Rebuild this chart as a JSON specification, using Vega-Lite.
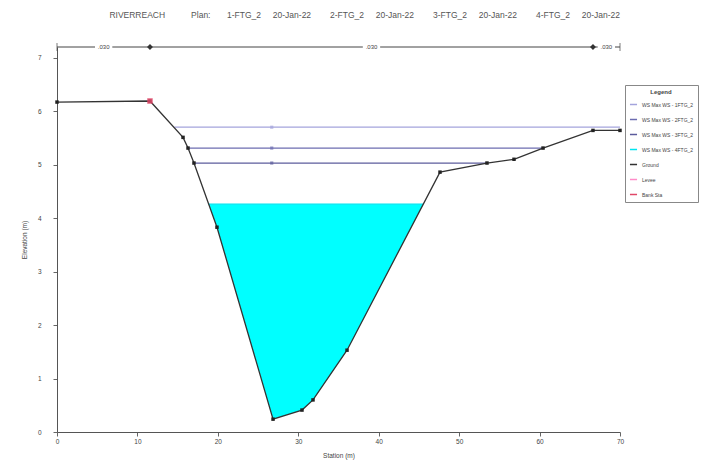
{
  "$schema": "https://vega.github.io/schema/vega-lite/v6.json",
  "width": 563,
  "height": 385,
  "autosize": {"type": "none"},
  "padding": {"left": 57, "top": 47, "right": 100, "bottom": 31},
  "background": "white",
  "config": {
    "view": {"stroke": null},
    "font": "Liberation Sans",
    "axis": {
      "domainColor": "#555555",
      "tickColor": "#666666",
      "labelColor": "#444444",
      "titleColor": "#444444",
      "labelFontSize": 6.5,
      "titleFontSize": 6.5,
      "titleFontWeight": "normal",
      "grid": false
    }
  },
  "title": {
    "text": "RIVERREACH\u00a0\u00a0\u00a0\u00a0\u00a0\u00a0\u00a0\u00a0\u00a0\u00a0\u00a0Plan:\u00a0\u00a0\u00a0\u00a0\u00a0\u00a0\u00a01-FTG_2\u00a0\u00a0\u00a0\u00a0\u00a020-Jan-22\u00a0\u00a0\u00a0\u00a0\u00a0\u00a0\u00a0\u00a02-FTG_2\u00a0\u00a0\u00a0\u00a0\u00a020-Jan-22\u00a0\u00a0\u00a0\u00a0\u00a0\u00a0\u00a0\u00a03-FTG_2\u00a0\u00a0\u00a0\u00a0\u00a020-Jan-22\u00a0\u00a0\u00a0\u00a0\u00a0\u00a0\u00a0\u00a04-FTG_2\u00a0\u00a0\u00a0\u00a0\u00a020-Jan-22",
    "fontSize": 8.5,
    "fontWeight": "normal",
    "color": "#555555",
    "anchor": "start",
    "dx": 88,
    "offset": 24
  },
  "datasets": {
    "ground": [
      {"station": 0, "elev": 6.17},
      {"station": 11.56, "elev": 6.19},
      {"station": 15.67, "elev": 5.51},
      {"station": 16.29, "elev": 5.31},
      {"station": 17.03, "elev": 5.03},
      {"station": 19.89, "elev": 3.83},
      {"station": 26.86, "elev": 0.24},
      {"station": 30.46, "elev": 0.41},
      {"station": 31.83, "elev": 0.6},
      {"station": 36.06, "elev": 1.53},
      {"station": 47.62, "elev": 4.86},
      {"station": 53.46, "elev": 5.03},
      {"station": 56.82, "elev": 5.1},
      {"station": 60.43, "elev": 5.31},
      {"station": 66.64, "elev": 5.64},
      {"station": 70, "elev": 5.64}
    ],
    "water": [
      {"station": 18.87, "ws": 4.26, "ground": 4.26},
      {"station": 19.89, "ws": 4.26, "ground": 3.83},
      {"station": 26.86, "ws": 4.26, "ground": 0.24},
      {"station": 30.46, "ws": 4.26, "ground": 0.41},
      {"station": 31.83, "ws": 4.26, "ground": 0.6},
      {"station": 36.06, "ws": 4.26, "ground": 1.53},
      {"station": 45.54, "ws": 4.26, "ground": 4.26}
    ],
    "ws": [
      {"profile": "WS Max WS - 1FTG_2", "elev": 5.7, "from": 14.6, "to": 70},
      {"profile": "WS Max WS - 2FTG_2", "elev": 5.31, "from": 16.29, "to": 60.43},
      {"profile": "WS Max WS - 3FTG_2", "elev": 5.03, "from": 17.03, "to": 53.46},
      {"profile": "WS Max WS - 4FTG_2", "elev": 4.26, "from": 18.87, "to": 45.54}
    ],
    "wsmarks": [
      {"profile": "WS Max WS - 1FTG_2", "station": 26.7, "elev": 5.7},
      {"profile": "WS Max WS - 2FTG_2", "station": 26.7, "elev": 5.31},
      {"profile": "WS Max WS - 3FTG_2", "station": 26.7, "elev": 5.03}
    ],
    "banks": [
      {"station": 11.56, "elev": 6.19}
    ],
    "nbar": [
      {"from": 0, "to": 70, "elev": 7.2}
    ],
    "nlabels": [
      {"station": 5.8, "elev": 7.2, "n": ".030"},
      {"station": 39.1, "elev": 7.2, "n": ".030"},
      {"station": 68.3, "elev": 7.2, "n": ".030"}
    ],
    "nends": [
      {"station": 0, "elev": 7.2},
      {"station": 70, "elev": 7.2}
    ],
    "nbanks": [
      {"station": 11.56, "elev": 7.2},
      {"station": 66.64, "elev": 7.2}
    ]
  },
  "layer": [
    {
      "data": {"name": "water"},
      "mark": {"type": "area", "color": "#00ffff", "opacity": 1},
      "encoding": {
        "x": {
          "field": "station",
          "type": "quantitative",
          "scale": {"domain": [0, 70], "nice": false, "zero": false},
          "axis": {
            "title": "Station (m)",
            "values": [0, 10, 20, 30, 40, 50, 60, 70],
            "format": "d",
            "labelOverlap": false,
            "labelFlush": false,
            "tickSize": 4,
            "labelPadding": 2,
            "titlePadding": 8
          }
        },
        "y": {
          "field": "ws",
          "type": "quantitative",
          "scale": {"domain": [0, 7.2], "nice": false, "zero": false},
          "axis": {
            "title": "Elevation (m)",
            "values": [0, 1, 2, 3, 4, 5, 6, 7],
            "format": "d",
            "labelOverlap": false,
            "tickSize": 4,
            "labelPadding": 12,
            "titlePadding": 10
          }
        },
        "y2": {"field": "ground"}
      }
    },
    {
      "data": {"name": "ws"},
      "mark": {"type": "rule", "strokeWidth": 1.2},
      "encoding": {
        "x": {"field": "from", "type": "quantitative"},
        "x2": {"field": "to"},
        "y": {"field": "elev", "type": "quantitative"},
        "color": {
          "field": "profile",
          "type": "nominal",
          "scale": {
            "domain": ["WS Max WS - 1FTG_2", "WS Max WS - 2FTG_2", "WS Max WS - 3FTG_2", "WS Max WS - 4FTG_2", "Ground", "Levee", "Bank Sta"],
            "range": ["#a4a4dc", "#6c6cb0", "#5c5c9c", "#00e5f0", "#333333", "#ff8cc8", "#e04868"]
          },
          "legend": {
            "title": "Legend",
            "orient": "none",
            "legendX": 568,
            "legendY": 38,
            "direction": "vertical",
            "titleAnchor": "middle",
            "titleFontSize": 6,
            "titleFontWeight": "bold",
            "titleColor": "#444444",
            "labelFontSize": 5,
            "labelColor": "#444444",
            "labelLimit": 60,
            "symbolType": "stroke",
            "symbolSize": 50,
            "symbolStrokeWidth": 1.5,
            "rowPadding": 7,
            "padding": 4,
            "strokeColor": "#888888",
            "fillColor": "white"
          }
        }
      }
    },
    {
      "data": {"name": "wsmarks"},
      "mark": {"type": "point", "filled": true, "size": 10, "shape": "square"},
      "encoding": {
        "x": {"field": "station", "type": "quantitative"},
        "y": {"field": "elev", "type": "quantitative"},
        "color": {"field": "profile", "type": "nominal", "legend": null}
      }
    },
    {
      "data": {"name": "ground"},
      "mark": {"type": "line", "color": "#333333", "strokeWidth": 1.3},
      "encoding": {
        "x": {"field": "station", "type": "quantitative"},
        "y": {"field": "elev", "type": "quantitative"}
      }
    },
    {
      "data": {"name": "ground"},
      "mark": {"type": "point", "filled": true, "shape": "square", "size": 12, "color": "#222222", "opacity": 1},
      "encoding": {
        "x": {"field": "station", "type": "quantitative"},
        "y": {"field": "elev", "type": "quantitative"}
      }
    },
    {
      "data": {"name": "banks"},
      "mark": {"type": "point", "filled": true, "shape": "square", "size": 30, "color": "#e04868", "opacity": 0.85},
      "encoding": {
        "x": {"field": "station", "type": "quantitative"},
        "y": {"field": "elev", "type": "quantitative"}
      }
    },
    {
      "data": {"name": "nbar"},
      "mark": {"type": "rule", "color": "#444444", "strokeWidth": 1},
      "encoding": {
        "x": {"field": "from", "type": "quantitative"},
        "x2": {"field": "to"},
        "y": {"field": "elev", "type": "quantitative"}
      }
    },
    {
      "data": {"name": "nends"},
      "mark": {"type": "tick", "orient": "vertical", "color": "#444444", "size": 8, "thickness": 1},
      "encoding": {
        "x": {"field": "station", "type": "quantitative"},
        "y": {"field": "elev", "type": "quantitative"}
      }
    },
    {
      "data": {"name": "nbanks"},
      "mark": {"type": "point", "filled": true, "shape": "diamond", "size": 35, "color": "#333333", "opacity": 1},
      "encoding": {
        "x": {"field": "station", "type": "quantitative"},
        "y": {"field": "elev", "type": "quantitative"}
      }
    },
    {
      "data": {"name": "nlabels"},
      "mark": {"type": "point", "filled": true, "shape": "M-1,-0.4L1,-0.4L1,0.4L-1,0.4Z", "size": 300, "color": "white", "opacity": 1},
      "encoding": {
        "x": {"field": "station", "type": "quantitative"},
        "y": {"field": "elev", "type": "quantitative"}
      }
    },
    {
      "data": {"name": "nlabels"},
      "mark": {"type": "text", "fontSize": 6, "color": "#444444", "baseline": "middle", "align": "center"},
      "encoding": {
        "x": {"field": "station", "type": "quantitative"},
        "y": {"field": "elev", "type": "quantitative"},
        "text": {"field": "n"}
      }
    }
  ]
}
